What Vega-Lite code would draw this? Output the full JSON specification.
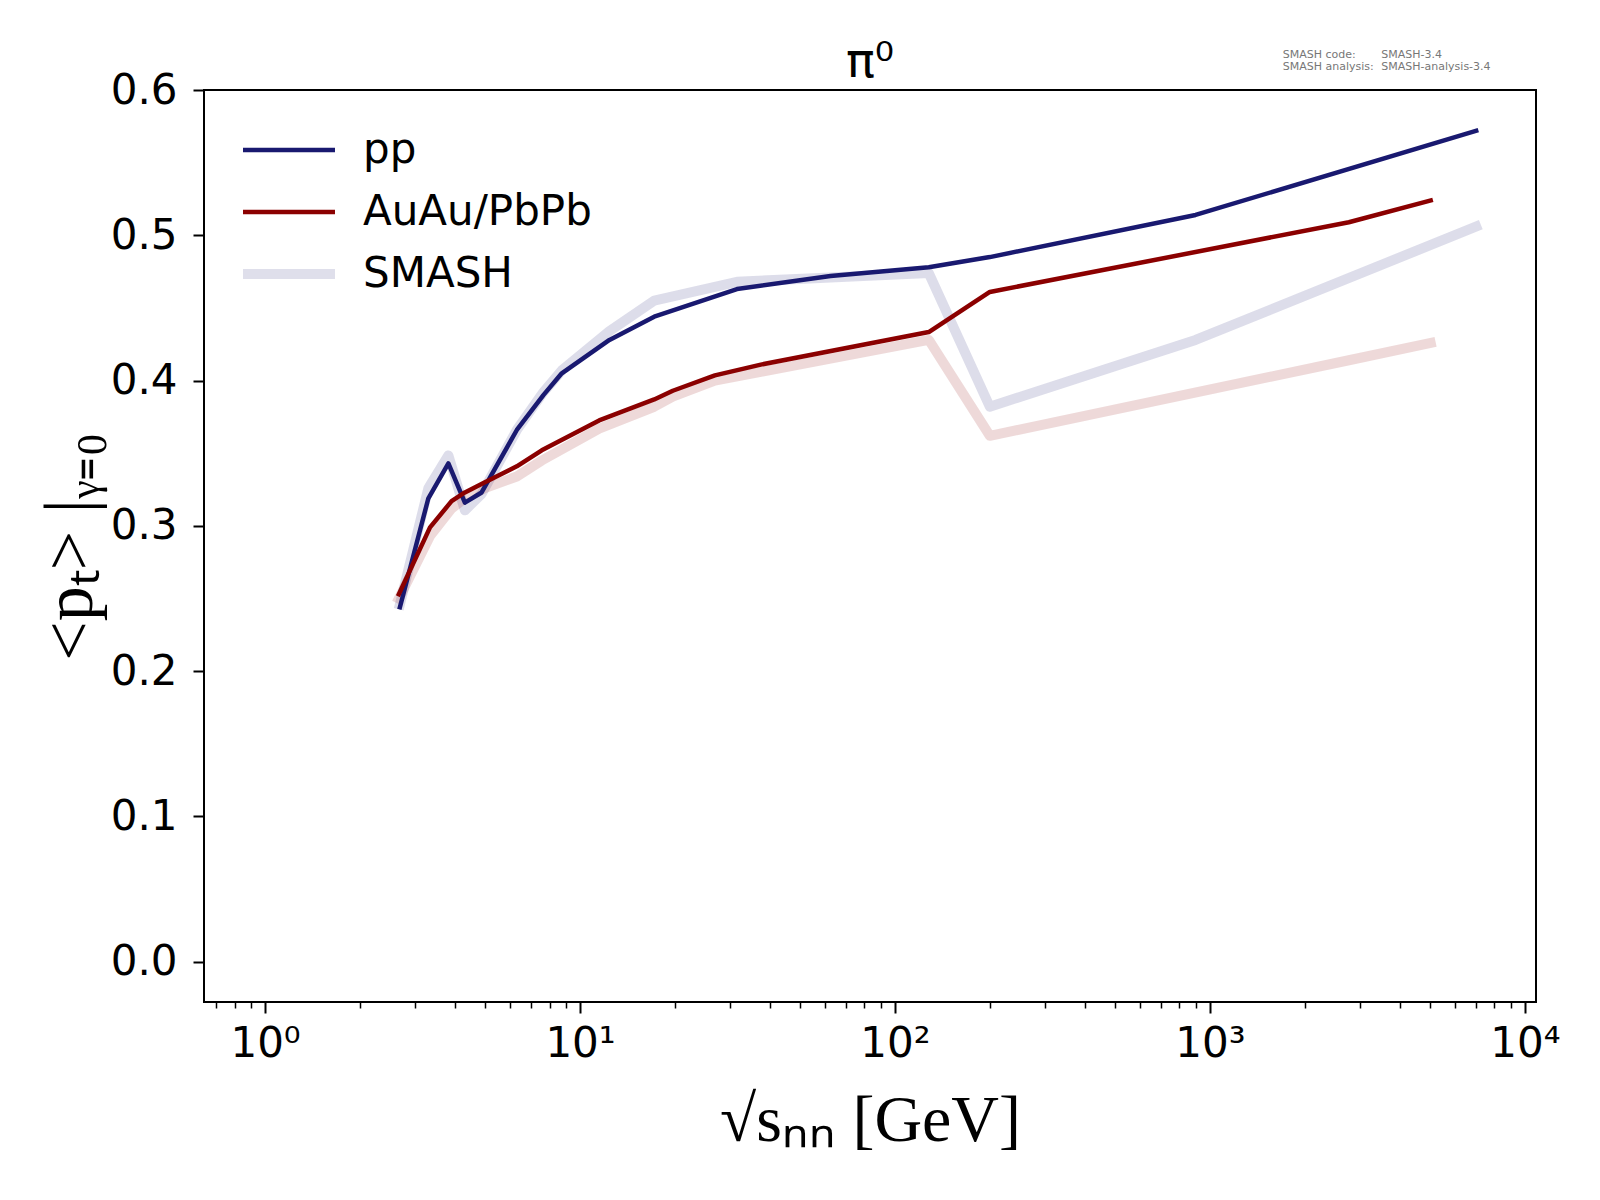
{
  "$schema": "https://vega.github.io/schema/vega-lite/v6.json",
  "width": 1332,
  "height": 912,
  "autosize": {"type": "none"},
  "padding": {"left": 204, "top": 90, "right": 64, "bottom": 198},
  "background": "white",
  "title": {
    "text": "π⁰",
    "font": "DejaVu Sans",
    "fontSize": 48,
    "fontWeight": "normal",
    "color": "black",
    "anchor": "middle",
    "offset": -38
  },
  "config": {
    "view": {"stroke": "black", "strokeWidth": 2}
  },
  "datasets": {
    "curves": [
      {"series": "pp", "E": 2.68, "v": 0.244},
      {"series": "pp", "E": 3.3, "v": 0.319},
      {"series": "pp", "E": 3.82, "v": 0.343},
      {"series": "pp", "E": 4.31, "v": 0.316},
      {"series": "pp", "E": 4.87, "v": 0.323},
      {"series": "pp", "E": 6.3, "v": 0.366},
      {"series": "pp", "E": 7.65, "v": 0.39},
      {"series": "pp", "E": 8.75, "v": 0.405},
      {"series": "pp", "E": 12.4, "v": 0.428},
      {"series": "pp", "E": 17.2, "v": 0.444},
      {"series": "pp", "E": 31.5, "v": 0.463},
      {"series": "pp", "E": 62.4, "v": 0.472},
      {"series": "pp", "E": 128, "v": 0.478},
      {"series": "pp", "E": 200, "v": 0.485},
      {"series": "pp", "E": 900, "v": 0.514},
      {"series": "pp", "E": 7000, "v": 0.572},
      {"series": "AuAu/PbPb", "E": 2.66, "v": 0.253},
      {"series": "AuAu/PbPb", "E": 3.34, "v": 0.299},
      {"series": "AuAu/PbPb", "E": 3.91, "v": 0.317},
      {"series": "AuAu/PbPb", "E": 4.31, "v": 0.323},
      {"series": "AuAu/PbPb", "E": 4.99, "v": 0.33},
      {"series": "AuAu/PbPb", "E": 6.3, "v": 0.341},
      {"series": "AuAu/PbPb", "E": 7.56, "v": 0.352},
      {"series": "AuAu/PbPb", "E": 11.5, "v": 0.3726},
      {"series": "AuAu/PbPb", "E": 17.2, "v": 0.387},
      {"series": "AuAu/PbPb", "E": 19.7, "v": 0.393},
      {"series": "AuAu/PbPb", "E": 26.8, "v": 0.4036},
      {"series": "AuAu/PbPb", "E": 37.5, "v": 0.411},
      {"series": "AuAu/PbPb", "E": 128, "v": 0.4334},
      {"series": "AuAu/PbPb", "E": 200, "v": 0.461},
      {"series": "AuAu/PbPb", "E": 2760, "v": 0.509},
      {"series": "AuAu/PbPb", "E": 5020, "v": 0.524},
      {"series": "SMASH pp", "E": 2.68, "v": 0.246},
      {"series": "SMASH pp", "E": 3.3, "v": 0.326},
      {"series": "SMASH pp", "E": 3.82, "v": 0.3485},
      {"series": "SMASH pp", "E": 4.31, "v": 0.3107},
      {"series": "SMASH pp", "E": 4.87, "v": 0.322},
      {"series": "SMASH pp", "E": 6.3, "v": 0.366},
      {"series": "SMASH pp", "E": 7.65, "v": 0.392},
      {"series": "SMASH pp", "E": 8.75, "v": 0.407},
      {"series": "SMASH pp", "E": 12.4, "v": 0.434},
      {"series": "SMASH pp", "E": 17.2, "v": 0.455},
      {"series": "SMASH pp", "E": 31.5, "v": 0.468},
      {"series": "SMASH pp", "E": 62.4, "v": 0.471},
      {"series": "SMASH pp", "E": 128, "v": 0.474},
      {"series": "SMASH pp", "E": 200, "v": 0.382},
      {"series": "SMASH pp", "E": 900, "v": 0.428},
      {"series": "SMASH pp", "E": 7000, "v": 0.506},
      {"series": "SMASH AuAu", "E": 2.66, "v": 0.25},
      {"series": "SMASH AuAu", "E": 3.34, "v": 0.293},
      {"series": "SMASH AuAu", "E": 3.91, "v": 0.312},
      {"series": "SMASH AuAu", "E": 4.31, "v": 0.319},
      {"series": "SMASH AuAu", "E": 4.99, "v": 0.326},
      {"series": "SMASH AuAu", "E": 6.3, "v": 0.334},
      {"series": "SMASH AuAu", "E": 7.56, "v": 0.345},
      {"series": "SMASH AuAu", "E": 11.5, "v": 0.367},
      {"series": "SMASH AuAu", "E": 17.2, "v": 0.382},
      {"series": "SMASH AuAu", "E": 19.7, "v": 0.389},
      {"series": "SMASH AuAu", "E": 26.8, "v": 0.4},
      {"series": "SMASH AuAu", "E": 37.5, "v": 0.406},
      {"series": "SMASH AuAu", "E": 128, "v": 0.428},
      {"series": "SMASH AuAu", "E": 200, "v": 0.362},
      {"series": "SMASH AuAu", "E": 2760, "v": 0.414},
      {"series": "SMASH AuAu", "E": 5020, "v": 0.426}
    ],
    "notes": [
      {"label": "SMASH code:", "E": 1702, "v": 0.6238},
      {"label": "SMASH-3.4", "E": 3500, "v": 0.6238},
      {"label": "SMASH analysis:", "E": 1702, "v": 0.6158},
      {"label": "SMASH-analysis-3.4", "E": 3500, "v": 0.6158}
    ]
  },
  "encoding": {
    "y": {
      "field": "v",
      "type": "quantitative",
      "scale": {"domain": [-0.0277, 0.6], "nice": false, "zero": false},
      "axis": {
        "values": [0, 0.1, 0.2, 0.3, 0.4, 0.5, 0.6],
        "format": ".1f",
        "grid": false,
        "domain": false,
        "tickSize": 11,
        "tickWidth": 2,
        "tickColor": "black",
        "labelFont": "DejaVu Sans",
        "labelFontSize": 42,
        "labelColor": "black",
        "labelPadding": 16,
        "title": "<pₜ> |ᵧ₌₀",
        "titleFont": "Liberation Serif",
        "titleFontSize": 70,
        "titleFontWeight": "normal",
        "titleColor": "black",
        "titlePadding": 4
      }
    },
    "color": {
      "field": "series",
      "type": "nominal",
      "scale": {
        "domain": ["pp", "AuAu/PbPb", "SMASH pp", "SMASH AuAu"],
        "range": ["#191970", "#8b0000", "#191970", "#8b0000"]
      },
      "legend": {
        "values": ["pp", "AuAu/PbPb", "SMASH pp"],
        "labelExpr": "datum.label == 'SMASH pp' ? 'SMASH' : datum.label",
        "title": null,
        "orient": "none",
        "legendX": 64,
        "legendY": 39,
        "padding": 0,
        "symbolType": "M-1.5,0H1.5",
        "symbolSize": 3761,
        "symbolOpacity": 1,
        "labelFont": "DejaVu Sans",
        "labelFontSize": 42,
        "labelColor": "black",
        "labelOffset": 53,
        "labelLimit": 600,
        "rowPadding": 20,
        "encode": {
          "symbols": {
            "update": {
              "strokeWidth": {"signal": "datum.value == 'SMASH pp' ? 10 : 4.5"},
              "strokeOpacity": {"signal": "datum.value == 'SMASH pp' ? 0.14 : 1"},
              "fill": {"value": "transparent"}
            }
          }
        }
      }
    }
  },
  "layer": [
    {
      "data": {"name": "curves"},
      "transform": [{"filter": "indexof(datum.series, 'SMASH') >= 0"}],
      "mark": {"type": "line", "strokeWidth": 10, "strokeOpacity": 0.15, "strokeCap": "square", "strokeJoin": "round"},
      "encoding": {
        "x": {
          "field": "E",
          "type": "quantitative",
          "scale": {"type": "log", "domain": [0.64, 10840], "nice": false},
          "axis": {
            "orient": "bottom",
            "values": [1, 10, 100, 1000, 10000],
            "labelExpr": "datum.value == 1 ? '10⁰' : datum.value == 10 ? '10¹' : datum.value == 100 ? '10²' : datum.value == 1000 ? '10³' : '10⁴'",
            "grid": false,
            "domain": false,
            "tickSize": 11,
            "tickWidth": 2,
            "tickColor": "black",
            "labelFont": "DejaVu Sans",
            "labelFontSize": 42,
            "labelColor": "black",
            "labelPadding": 10,
            "labelFlush": false,
            "title": "√sₙₙ [GeV]",
            "titleFont": "Liberation Serif",
            "titleFontSize": 66,
            "titleFontWeight": "normal",
            "titleColor": "black",
            "titlePadding": 24
          }
        }
      }
    },
    {
      "data": {"name": "curves"},
      "transform": [{"filter": "indexof(datum.series, 'SMASH') < 0"}],
      "mark": {"type": "line", "strokeWidth": 4.5, "strokeCap": "square", "strokeJoin": "round"},
      "encoding": {
        "x": {
          "field": "E",
          "type": "quantitative",
          "axis": {
            "orient": "bottom",
            "values": [0.7, 0.8, 0.9, 2, 3, 4, 5, 6, 7, 8, 9, 20, 30, 40, 50, 60, 70, 80, 90, 200, 300, 400, 500, 600, 700, 800, 900, 2000, 3000, 4000, 5000, 6000, 7000, 8000, 9000],
            "labels": false,
            "grid": false,
            "domain": false,
            "tickSize": 6,
            "tickWidth": 1.5,
            "tickColor": "black",
            "title": null
          }
        }
      }
    },
    {
      "data": {"name": "notes"},
      "mark": {"type": "text", "align": "left", "baseline": "middle", "font": "DejaVu Sans", "fontSize": 11},
      "encoding": {
        "x": {"field": "E", "type": "quantitative", "axis": null},
        "text": {"field": "label"},
        "color": {"value": "#777777"}
      }
    }
  ],
  "resolve": {"axis": {"x": "independent"}}
}
